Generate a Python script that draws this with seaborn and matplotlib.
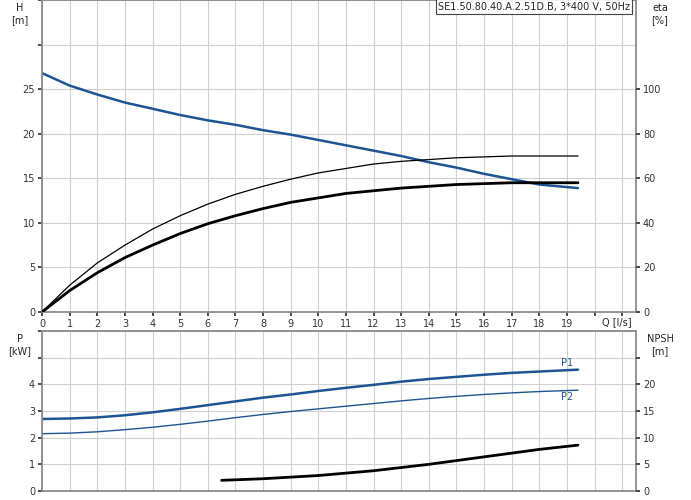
import matplotlib
matplotlib.use("Agg")
import matplotlib.pyplot as plt
import seaborn as sns
import pandas as pd

sns.set_theme(style="white")
plt.rcParams['font.family'] = ['DejaVu Sans']

q = [0, 1, 2, 3, 4, 5, 6, 7, 8, 9, 10, 11, 12, 13, 14, 15, 16, 17, 18, 19.4]
h = [26.8, 25.4, 24.4, 23.5, 22.8, 22.1, 21.5, 21.0, 20.4, 19.9, 19.3, 18.7, 18.1, 17.5, 16.8, 16.2, 15.5, 14.9, 14.3, 13.9]
eta_thin = [0, 12, 22, 30, 37.2, 43.2, 48.4, 52.8, 56.4, 59.6, 62.4, 64.4, 66.4, 67.6, 68.4, 69.2, 69.6, 70, 70, 70]
eta_thick = [0, 9.6, 17.6, 24.4, 30, 35.2, 39.6, 43.2, 46.4, 49.2, 51.2, 53.2, 54.4, 55.6, 56.4, 57.2, 57.6, 58, 58, 58]
p1 = [2.7, 2.72, 2.76, 2.84, 2.95, 3.08, 3.22, 3.36, 3.5, 3.62, 3.75, 3.87, 3.98, 4.1, 4.2, 4.28, 4.36, 4.43, 4.48, 4.55]
p2 = [2.15, 2.17, 2.22, 2.3, 2.39, 2.5, 2.62, 2.75, 2.87, 2.98, 3.08, 3.18, 3.28, 3.38, 3.47, 3.55, 3.62, 3.68, 3.73, 3.78]
q_npsh = [6.5, 8, 10, 12, 14, 16, 18, 19.4]
npsh = [2.0, 2.3, 2.9, 3.8, 5.0, 6.4, 7.8, 8.6]

blue = "#1d5592"
fig = plt.figure(figsize=(6.91, 5.0), dpi=100)
ax = fig.add_axes([42/691, 188/500, 594/691, 312/500])
ax2 = ax.twinx()
bx = fig.add_axes([42/691, 9/500, 594/691, 160/500])
bx2 = bx.twinx()

sns.lineplot(x=q, y=h, ax=ax, color=blue, lw=1.8)
sns.lineplot(x=q, y=eta_thin, ax=ax2, color="black", lw=0.9)
sns.lineplot(x=q, y=eta_thick, ax=ax2, color="black", lw=2.0)
sns.lineplot(x=q, y=p1, ax=bx, color=blue, lw=1.8)
sns.lineplot(x=q, y=p2, ax=bx, color=blue, lw=1.0)
sns.lineplot(x=q_npsh, y=npsh, ax=bx2, color="black", lw=2.0)

xt = list(range(0, 22))
for a, a2, ymax, r2max in [(ax, ax2, 35, 140), (bx, bx2, 6, 30)]:
    a.set_xlim(0, 21.5)
    a.set_ylim(0, ymax)
    a2.set_ylim(0, r2max)
    a.set_xticks(xt)
    a.grid(True, color="#d0d0d0", lw=0.8)
    for s in a.spines.values():
        s.set_color("#888888")
    for s in a2.spines.values():
        s.set_visible(False)
    a.tick_params(labelsize=7, length=3, direction="out", pad=2, left=True, bottom=True, colors="#333333")
    a2.tick_params(labelsize=7, length=3, pad=2, right=True, colors="#333333")
    a2.grid(False)

ax.set_yticks([0, 5, 10, 15, 20, 25, 30, 35])
ax.set_yticklabels(["0", "5", "10", "15", "20", "25", "", ""])
ax2.set_yticks([0, 20, 40, 60, 80, 100])
ax.set_xticklabels([str(v) if v <= 19 else "" for v in xt])
bx.set_yticks([0, 1, 2, 3, 4, 5, 6])
bx.set_yticklabels(["0", "1", "2", "3", "4", "", ""])
bx2.set_yticks([0, 5, 10, 15, 20, 25])
bx2.set_yticklabels(["0", "5", "10", "15", "20", ""])
bx.set_xticklabels([])
bx.tick_params(bottom=False)

fig.text(20/691, 1 - 14/500, "H\n[m]", fontsize=7, ha="center", va="center")
fig.text(660/691, 1 - 14/500, "eta\n[%]", fontsize=7, ha="center", va="center")
fig.text(20/691, 1 - 345/500, "P\n[kW]", fontsize=7, ha="center", va="center")
fig.text(660/691, 1 - 345/500, "NPSH\n[m]", fontsize=7, ha="center", va="center")
fig.text(617/691, 1 - 322/500, "Q [l/s]", fontsize=7, ha="center", va="center")
ax.text(0.99, 0.995, "SE1.50.80.40.A.2.51D.B, 3*400 V, 50Hz", transform=ax.transAxes,
        fontsize=7, ha="right", va="top",
        bbox=dict(boxstyle="square,pad=0.25", fc="white", ec="#444444", lw=0.8))
bx.text(19.0, 4.62, "P1", fontsize=7, color=blue, ha="center", va="bottom")
bx.text(19.0, 3.7, "P2", fontsize=7, color=blue, ha="center", va="top")

fig.savefig("out.png", dpi=100)
